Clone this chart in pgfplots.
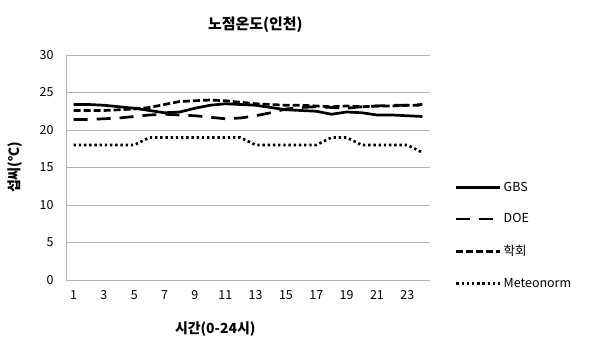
\documentclass[border=0pt]{standalone}
\usepackage{pgfplots}
\pgfplotsset{compat=1.18}
\usepackage{fontspec}
\setmainfont{Noto Sans CJK KR}
\begin{document}
\begin{tikzpicture}
\useasboundingbox (0,0) rectangle (591bp,344bp);
\begin{axis}[
  at={(66bp,64bp)}, anchor=south west,
  width=364bp, height=225bp, scale only axis,
  xmin=0.5, xmax=24.5, ymin=0, ymax=30,
  xtick={1,3,...,23}, ytick={0,5,...,30},
  major tick length=0pt,
  axis x line=bottom, axis y line=left,
  axis line style={draw=black!30, line width=0.8bp, -},
  ymajorgrids, grid style={draw=black!30, line width=0.8bp},
  /pgf/number format/assume math mode=true,
  tick label style={font=\fontsize{12.5}{14}\selectfont},
  yticklabel style={xshift=-9bp},
  xticklabel style={yshift=-7bp},
  title={\bfseries 노점온도(인천)},
  title style={font=\fontsize{15}{17}\selectfont, at={(rel axis cs:0.52,1)}, yshift=13bp},
  xlabel={\bfseries 시간(0-24시)},
  xlabel style={font=\fontsize{14}{16}\selectfont, at={(ticklabel cs:0.41)}, anchor=north, yshift=-15bp},
  ylabel={\bfseries 섭씨(℃)},
  ylabel style={font=\fontsize{14}{16}\selectfont, yshift=10bp},
  legend style={at={(rel axis cs:1.06,0.455)}, anchor=north west, draw=none,
    font=\fontsize{12.5}{14}\selectfont, row sep=17bp, fill=none},
  legend cell align=left,
  legend image code/.code={\draw[#1] (0bp,0bp) -- (44bp,0bp);},
  every axis plot/.append style={line width=2.7bp, line cap=butt, line join=round},
]
\addplot[black, solid] coordinates {
(1,23.4)(2,23.4)(3,23.3)(4,23.1)(5,22.9)(6,22.6)(7,22.3)(8,22.4)(9,22.9)(10,23.3)(11,23.5)(12,23.4)
(13,23.3)(14,23.0)(15,22.7)(16,22.6)(17,22.5)(18,22.1)(19,22.4)(20,22.3)(21,22.0)(22,22.0)(23,21.9)(24,21.8)};
\addlegendentry{GBS}
\addplot[black, dash pattern=on 14bp off 9bp] coordinates {
(1,21.4)(2,21.4)(3,21.5)(4,21.6)(5,21.8)(6,22.0)(7,22.1)(8,22.0)(9,21.9)(10,21.7)(11,21.5)(12,21.6)
(13,21.9)(14,22.3)(15,22.8)(16,23.0)(17,23.1)(18,23.0)(19,22.9)(20,23.1)(21,23.2)(22,23.3)(23,23.3)(24,23.4)};
\addlegendentry{DOE}
\addplot[black, dash pattern=on 7bp off 3bp] coordinates {
(1,22.6)(2,22.6)(3,22.6)(4,22.7)(5,22.8)(6,23.0)(7,23.4)(8,23.8)(9,23.9)(10,24.0)(11,23.9)(12,23.7)
(13,23.5)(14,23.4)(15,23.3)(16,23.3)(17,23.2)(18,23.1)(19,23.2)(20,23.1)(21,23.2)(22,23.2)(23,23.3)(24,23.3)};
\addlegendentry{학회}
\addplot[black, dash pattern=on 2.4bp off 2.8bp] coordinates {
(1,18)(2,18)(3,18)(4,18)(5,18)(6,19)(7,19)(8,19)(9,19)(10,19)(11,19)(12,19)
(13,18)(14,18)(15,18)(16,18)(17,18)(18,19)(19,19)(20,18)(21,18)(22,18)(23,18)(24,17)};
\addlegendentry{Meteonorm}
\end{axis}
\end{tikzpicture}
\end{document}
